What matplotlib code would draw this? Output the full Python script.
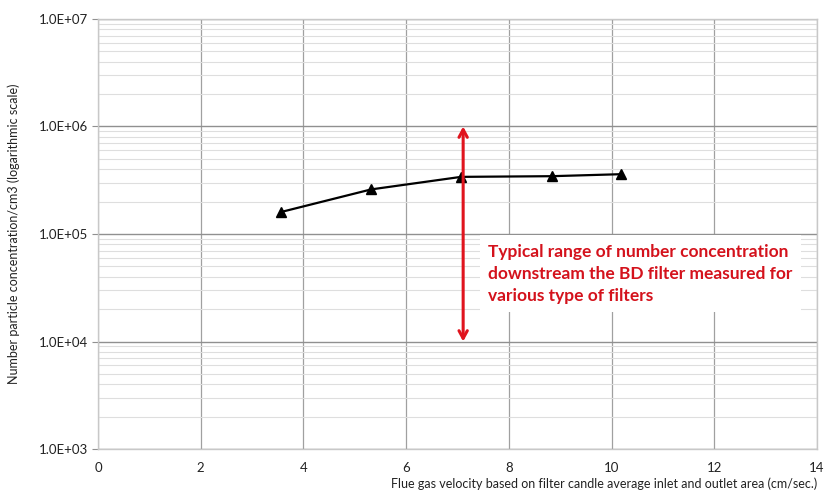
import matplotlib
matplotlib.use("Agg")
import matplotlib.pyplot as plt
from matplotlib.ticker import FixedLocator, LogLocator, NullFormatter, FuncFormatter

plt.rcParams['font.family'] = ['Lato', 'DejaVu Sans']

velocity = [3.56, 5.32, 7.07, 8.84, 10.18]
concentration = [1.6e5, 2.6e5, 3.4e5, 3.45e5, 3.6e5]
x_ticks = [0, 2, 4, 6, 8, 10, 12, 14]
y_ticks = [1e3, 1e4, 1e5, 1e6, 1e7]
y_tick_labels = ["1.0E+03", "1.0E+04", "1.0E+05", "1.0E+06", "1.0E+07"]
arrow_x = 7.11
arrow_range = [1e4, 1e6]
note = ("Typical range of number concentration\n"
        "downstream the BD filter measured for\n"
        "various type of filters")

fig = plt.figure(figsize=(8.25, 4.93), dpi=100)
ax = fig.add_axes([0.1188, 0.0892, 0.8715, 0.8723])
ax.set_yscale('log')
ax.set_xlim(0, 14)
ax.set_ylim(1e3, 1e7)
ax.xaxis.set_major_locator(FixedLocator(x_ticks))
ax.yaxis.set_major_locator(FixedLocator(y_ticks))
ax.yaxis.set_major_formatter(FuncFormatter(lambda v, p: y_tick_labels[y_ticks.index(v)] if v in y_ticks else ""))
ax.yaxis.set_minor_locator(LogLocator(base=10, subs=range(2, 10)))
ax.yaxis.set_minor_formatter(NullFormatter())

ax.grid(True, which='major', axis='x', color='#a0a0a0', lw=0.9)
ax.grid(True, which='major', axis='y', color='#909090', lw=1.0)
ax.grid(True, which='minor', axis='y', color='#dedede', lw=0.8)
ax.set_axisbelow(True)
for s in ax.spines.values():
    s.set_color('#c8c8c8')
    s.set_linewidth(1.0)
ax.tick_params(which='both', length=0, labelsize=9.5, colors='#222222', pad=9)
ax.tick_params(axis='y', which='major', length=4, color='#909090', direction='out', pad=3)

ax.plot(velocity, concentration, color='black', lw=1.6, marker='^', ms=6.5, zorder=4)

ax.annotate('', xy=(arrow_x, arrow_range[1]), xytext=(arrow_x, arrow_range[0]),
            arrowprops=dict(arrowstyle='<->,head_length=0.55,head_width=0.3', color='#e0141e', lw=2.2,
                            shrinkA=0, shrinkB=0),
            zorder=5)

ax.text(7.6, 4.25e4, note, color='#d4121c', fontsize=12.5, fontweight='bold', va='center', ha='left',
        linespacing=1.45, zorder=6,
        bbox=dict(boxstyle='square,pad=0.5', fc='white', ec='none'))

ax.set_xlabel("Flue gas velocity based on filter candle average inlet and outlet area (cm/sec.)",
              fontsize=9, color='#222222', loc='right', labelpad=3)
ax.set_ylabel("Number particle concentration/cm3 (logarithmic scale)", fontsize=9, color='#222222', labelpad=14)

fig.savefig('out.png', dpi=100)
